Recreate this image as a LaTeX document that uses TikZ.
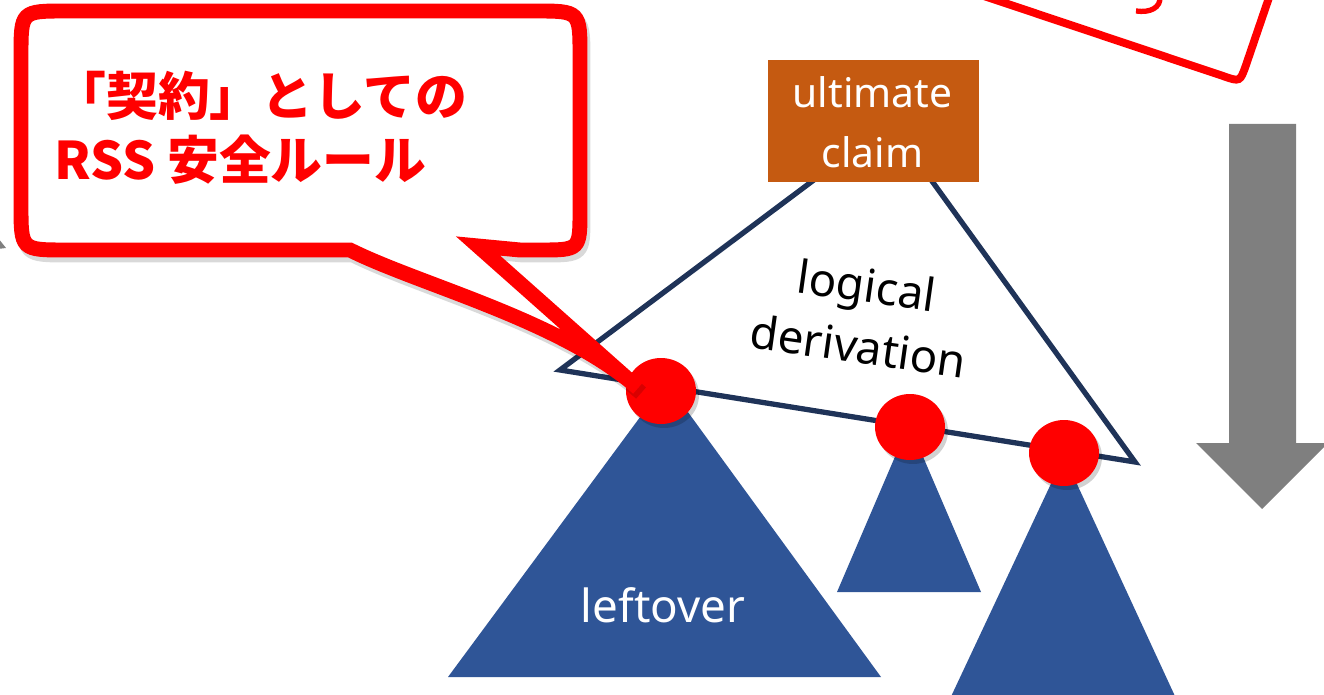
\documentclass[tikz,border=0pt]{standalone}
\usepackage{fontspec}
\setmainfont{Noto Sans}
\newfontfamily\jpfont{Noto Sans CJK JP}
\usetikzlibrary{shapes.geometric}
\definecolor{rssred}{HTML}{FF0000}
\definecolor{claimorange}{HTML}{C55A11}
\definecolor{treeblue}{HTML}{2F5597}
\definecolor{navyline}{HTML}{1F3358}
\definecolor{arrowgray}{HTML}{7F7F7F}
\tikzset{
  reddot/.style={ellipse, fill=rssred, inner sep=0pt, minimum width=1.4cm, minimum height=1.32cm,
    preaction={fill=black, opacity=0.18, transform canvas={shift={(3,4)}}}},
  tree/.style={fill=treeblue},
  outline/.style={draw=navyline, line width=3pt, line join=miter},
  bubble/.style={draw=rssred, fill=white, line width=8.5pt, line join=miter,
    preaction={draw=black, opacity=0.15, line width=8.5pt, transform canvas={shift={(3,5)}}}},
  claimbox/.style={fill=claimorange, inner sep=0pt, minimum width=4.22cm, minimum height=2.44cm},
  whitetxt/.style={text=white, inner sep=0pt, anchor=base},
  jptxt/.style={text=rssred, inner sep=0pt, anchor=base west, font=\jpfont\bfseries\fontsize{29.5pt}{36pt}\selectfont},
  blacktxt/.style={text=black, inner sep=0pt, anchor=base, rotate=-8, align=center, font=\fontsize{26pt}{35pt}\selectfont},
  grayarrow/.style={fill=arrowgray}
}
\begin{document}
\begin{tikzpicture}[x=0.02cm, y=-0.02cm]
\useasboundingbox (0,0) rectangle (1324,695);
\clip (0,0) rectangle (1324,695);

% outline triangle (logical derivation)
\coordinate (tl) at (560,370);
\coordinate (tapex) at (890,123);
\coordinate (tr) at (1135,462);
\draw[outline] (tl) -- (tapex) -- (tr) -- cycle;

% blue subtrees
\coordinate (a1) at (666,382); \coordinate (b1l) at (448,677); \coordinate (b1r) at (881,677);
\coordinate (a2) at (909,424); \coordinate (b2l) at (837,592); \coordinate (b2r) at (981,592);
\coordinate (a3) at (1064,456); \coordinate (b3l) at (940,720); \coordinate (b3r) at (1186,720);
\fill[tree] (a1) -- (b1l) -- (b1r) -- cycle;
\fill[tree] (a2) -- (b2l) -- (b2r) -- cycle;
\fill[tree] (a3) -- (b3l) -- (b3r) -- cycle;

% red dots
\node[reddot] (d1) at (661,391) {};
\node[reddot] (d2) at (910,427) {};
\node[reddot] (d3) at (1064,453) {};

% ultimate claim
\node[claimbox] (claim) at (873.5,121) {};
\node[whitetxt, font=\fontsize{23.2pt}{28pt}\selectfont] (ult) at (872.5,108) {ultimate};
\node[whitetxt, font=\fontsize{23.2pt}{28pt}\selectfont] (clm) at (872.5,168) {claim};

% logical derivation
\node[blacktxt] (ld) at (856,363) {logical\\derivation};

% leftover
\node[whitetxt, font=\fontsize{26pt}{30pt}\selectfont] (lo) at (663,622) {leftover};

% gray arrow on the right
\fill[grayarrow] (1229,124) -- (1296,124) -- (1296,443) -- (1328,443) -- (1262,509) -- (1196,443) -- (1229,443) -- cycle;
% gray fragment on the left edge
\fill[grayarrow] (-2,238) -- (6,248) -- (-2,249) -- cycle;

% top-right callout (partly outside)
\draw[draw=rssred, line width=4.5pt] (960,-12) -- (1223,76) .. controls (1240,82) .. (1246,65) -- (1275,-20);
\draw[draw=rssred, line width=3pt] (1160,-4) .. controls (1161,8) and (1150,13) .. (1136,11);

% main callout bubble
\draw[bubble] (66,11) -- (535,11) .. controls (580,11) .. (580,56) -- (580,210)
  .. controls (580,250) .. (540,250) -- (520,250) -- (478,246) -- (638,388)
  .. controls (560,320) and (420,285) .. (350,250) -- (66,250)
  .. controls (21,250) .. (21,205) -- (21,56) .. controls (21,11) .. (66,11) -- cycle;

\node[jptxt] (jp1) at (54,116) {「契約」としての};
\node[jptxt] (jp2) at (54,180) {RSS 安全ルール};
\end{tikzpicture}
\end{document}
